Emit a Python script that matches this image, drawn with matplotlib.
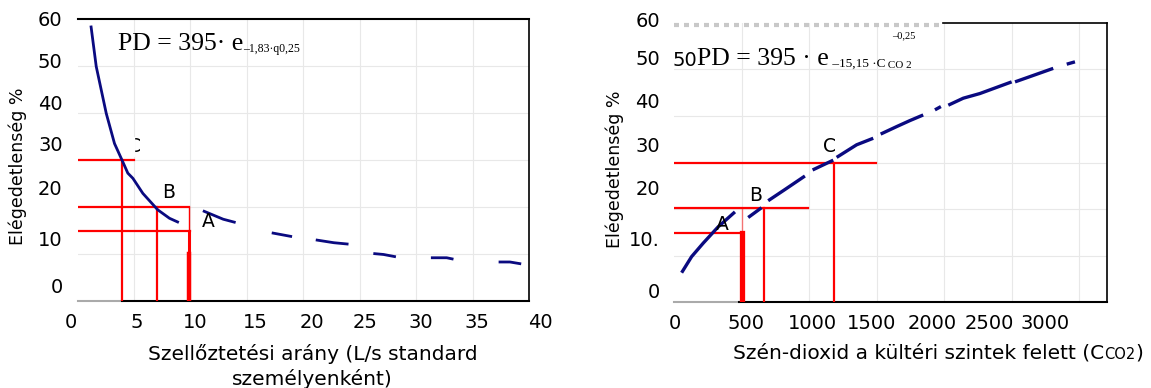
import numpy as np
import matplotlib.pyplot as plt
from matplotlib.patches import Rectangle

nan = np.nan

# left panel: dissatisfaction vs ventilation rate
vent_x = [1.18, 1.65, 2.54, 3.27, 3.95, 4.45, 4.9, 5.78, 7.1, 8.14, 8.97, nan,
          11.1, 12.9, 14.0, nan, 17.2, 19.0, nan, 21.1, 22.7, 24.0, nan,
          26.2, 27.1, 28.2, nan, 31.3, 32.7, 33.3, nan, 37.3, 38.3, 39.3]
vent_pd = [58.6, 49.9, 39.9, 33.5, 29.9, 27.2, 26.1, 22.9, 19.4, 17.6, 16.7, nan,
           19.2, 17.4, 16.7, nan, 14.5, 13.7, nan, 13.0, 12.4, 12.1, nan,
           10.1, 9.9, 9.4, nan, 9.2, 9.2, 8.9, nan, 8.3, 8.3, 7.9]

# right panel: dissatisfaction vs CO2 above outdoor level
co2_x = [55, 129, 215, 326, 450, nan, 548, 647, nan, 696, 820, 968, nan,
         1025, 1178, nan, 1203, 1351, 1474, nan, 1529, 1647, 1746, 1844, nan,
         1931, 1975, nan, 2030, 2141, 2264, 2499, nan, 2524, 2807, nan, 2907, 2968]
co2_pd = [6.35, 9.8, 12.7, 16.2, 19.4, nan, 18.2, 20.3, nan, 21.8, 24.2, 27.1, nan,
          28.4, 30.5, nan, 31.1, 33.8, 35.2, nan, 36.1, 37.7, 39.0, 40.2, nan,
          41.3, 42.0, nan, 42.3, 43.8, 44.8, 47.3, nan, 47.3, 50.2, nan, 51.1, 51.6]

# reference points A, B, C
pts = ["A", "B", "C"]
vent_ref_x = [9.85, 7.04, 3.95]
vent_ref_y = [14.8, 20.1, 29.9]
vent_ref_end = [9.95, 9.9, 4.98]
co2_ref_x = [500, 667, 1185]
co2_ref_y = [14.9, 20.2, 29.8]
co2_ref_end = [511, 993, 1491]

# tick labels (as printed, slightly off the grid in the original)
ytick_lab_left = ["0", "10", "20", "30", "40", "50", "60"]
ytick_pos_left = [2.9, 12.8, 23.8, 33.0, 41.9, 50.7, 59.6]
ytick_lab_right = ["0", "10.", "20", "30", "40", "50", "60"]
ytick_pos_right = [2.0, 13.2, 24.3, 33.5, 42.8, 52.0, 60.2]
xtick_lab_left = ["0", "5", "10", "15", "20", "25", "30", "35", "40"]
xtick_pos_left = [-0.59, 5.27, 10.4, 15.7, 20.8, 25.5, 30.4, 35.4, 41.0]
xtick_lab_right = ["0", "500", "1000", "1500", "2000", "2500", "3000"]
xtick_pos_right = [6, 531, 1027, 1464, 1908, 2337, 2744]

navy = "#0a0a80"
red = "#ff0000"
grid_c = "#e8e8e8"
serif = "Liberation Serif"
tick_fs = 14

fig = plt.figure(figsize=(11.51, 3.88), dpi=100)
ax1 = fig.add_axes([77.6 / 1151, 1 - 301 / 388, 451.5 / 1151, 282 / 388])
ax2 = fig.add_axes([674.2 / 1151, 1 - 302.3 / 388, 432.5 / 1151, 279.6 / 388])


def frame(ax, xmax, xgrid, gray_end):
    ax.set_xlim(0, xmax)
    ax.set_ylim(0, 60)
    ax.set_xticks([])
    ax.set_yticks([])
    for s in ["left", "top", "bottom"]:
        ax.spines[s].set_visible(False)
    ax.spines["right"].set_linewidth(1.2)
    for g in xgrid:
        ax.axvline(g, color=grid_c, lw=0.8, zorder=0)
    for g in range(10, 60, 10):
        ax.axhline(g, color=grid_c, lw=0.8, zorder=0)
    ax.plot([0, gray_end], [0, 0], color="#aaaaaa", lw=1.5, clip_on=False, zorder=1)
    ax.plot([gray_end, xmax], [0, 0], color="black", lw=1.5, clip_on=False, zorder=1)


frame(ax1, 40, range(5, 40, 5), 3.95)
frame(ax2, 3203, range(500, 3001, 500), 480)
ax1.plot([0, 40], [60, 60], color="black", lw=1.5, clip_on=False)
ax2.plot([0, 1990], [59.5, 59.5], color="#c8c8c8", lw=3, ls=(0, (1.2, 1.2)),
         clip_on=False)
ax2.plot([1990, 3203], [60, 60], color="black", lw=1.2, clip_on=False)

# tick labels
for ax, xl, xp, yl, yp in [(ax1, xtick_lab_left, xtick_pos_left, ytick_lab_left, ytick_pos_left),
                           (ax2, xtick_lab_right, xtick_pos_right, ytick_lab_right, ytick_pos_right)]:
    for lab, p in zip(xl, xp):
        ax.text(p, -0.075, lab, transform=ax.get_xaxis_transform(), ha="center",
                va="center", fontsize=tick_fs, clip_on=False)
    for lab, p in zip(yl, yp):
        ax.text(-0.033, p, lab, transform=ax.get_yaxis_transform(), ha="right",
                va="center", fontsize=tick_fs, clip_on=False)

# curves
ax1.plot(vent_x, vent_pd, color=navy, lw=2.0, solid_capstyle="butt", zorder=3)
ax2.plot(co2_x, co2_pd, color=navy, lw=2.4, solid_capstyle="butt", zorder=3)

# red reference lines, left
for x, y, e in zip(vent_ref_x, vent_ref_y, vent_ref_end):
    ax1.plot([0, e], [y, y], color=red, lw=1.6, zorder=2)
ax1.plot([vent_ref_x[2]] * 2, [0, vent_ref_y[2]], color=red, lw=1.6, zorder=2)
ax1.plot([vent_ref_x[1]] * 2, [0, vent_ref_y[1]], color=red, lw=1.6, zorder=2)
ax1.plot([vent_ref_end[1]] * 2, [vent_ref_y[0], vent_ref_y[1]], color=red, lw=1.0, zorder=2)
ax1.plot([vent_ref_x[0]] * 2, [0, vent_ref_y[0]], color=red, lw=2.2, zorder=2)
ax1.plot([vent_ref_x[0]] * 2, [0, 10], color=red, lw=3.2, zorder=2)

# red reference lines, right
for x, y, e in zip(co2_ref_x, co2_ref_y, co2_ref_end):
    ax2.plot([0, e], [y, y], color=red, lw=1.6, zorder=2)
ax2.plot([co2_ref_x[2]] * 2, [0, co2_ref_y[2]], color=red, lw=1.6, zorder=2)
ax2.plot([co2_ref_x[1]] * 2, [0, co2_ref_y[1]], color=red, lw=1.6, zorder=2)
ax2.plot([co2_ref_x[0]] * 2, [co2_ref_y[0], co2_ref_y[1]], color=red, lw=1.0, alpha=0.5, zorder=2)
ax2.plot([co2_ref_x[0]] * 2, [0, co2_ref_y[0]], color=red, lw=3.8, zorder=2)

# point labels
lab_left = [(11.6, 17.0), (8.1, 23.0), (5.04, 32.9)]
lab_right = [(358, 16.8), (605, 23.0), (1153, 33.4)]
for p, (x, y) in zip(pts, lab_left):
    ax1.text(x, y, p, ha="center", va="center", fontsize=13.5, zorder=3)
for p, (x, y) in zip(pts, lab_right):
    ax2.text(x, y, p, ha="center", va="center", fontsize=13.5, zorder=3)
ax1.add_patch(Rectangle((4.35, 30.8), 0.69, 4.2, color="white", zorder=4))

# equations
t = ax1.text(3.58, 53.4, "PD = 395· e", family=serif, fontsize=18.5, va="baseline")
ax1.annotate("–1,83·q0,25", xy=(1, 0), xycoords=t, va="bottom", ha="left",
             family=serif, fontsize=8.5)

t = ax2.text(-16, 50.7, "50", fontsize=tick_fs, va="baseline", clip_on=False)
t = ax2.annotate("PD = 395 · e", xy=(1, 0), xycoords=t, va="bottom", ha="left",
                 family=serif, fontsize=18.5)
t = ax2.annotate(" –15,15 ·C", xy=(1, 0), xycoords=t, va="bottom", ha="left",
                 family=serif, fontsize=9.5)
ax2.annotate(" CO 2", xy=(1, 0), xycoords=t, va="bottom", ha="left",
             family=serif, fontsize=8)
ax2.text(1613, 56.6, "–0,25", family=serif, fontsize=7.5, va="baseline")

# axis titles
fig.text(18 / 1151, 1 - 166 / 388, "Elégedetlenség %", rotation=90, ha="center",
         va="center", fontsize=12.5)
fig.text(615 / 1151, 1 - 169 / 388, "Elégedetlenség %", rotation=90, ha="center",
         va="center", fontsize=12.5)
ax1.text(0.52, -0.232, "Szellőztetési arány (L/s standard\nszemélyenként)",
         transform=ax1.transAxes, ha="center", va="center", fontsize=14.5,
         linespacing=1.35)
t = ax2.text(0.136, -0.181, "Szén-dioxid a kültéri szintek felett (C",
             transform=ax2.transAxes, ha="left", va="center", fontsize=14.5)
t = ax2.annotate("CO2", xy=(1, 0), xycoords=t, va="bottom", ha="left", fontsize=10.5)
ax2.annotate(")", xy=(1, 0), xycoords=t, va="bottom", ha="left", fontsize=14.5)

fig.savefig("out.png", dpi=100)
